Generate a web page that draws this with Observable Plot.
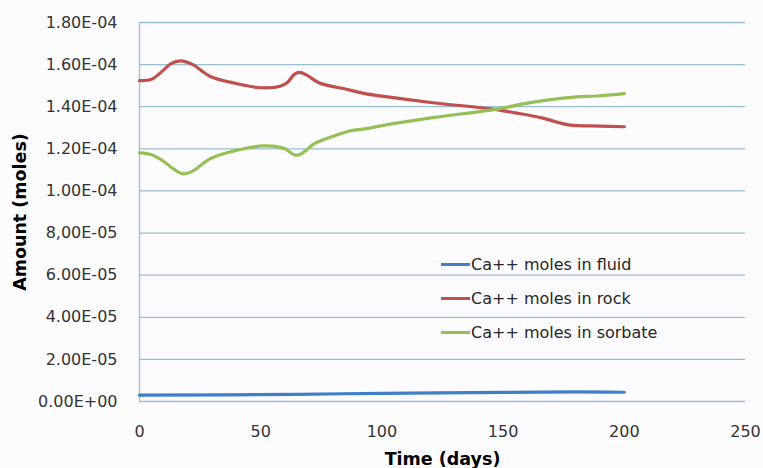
<!DOCTYPE html>
<html>
<head>
<meta charset="utf-8">
<script src="https://cdn.jsdelivr.net/npm/d3@7"></script>
<script src="https://cdn.jsdelivr.net/npm/@observablehq/plot@0.6"></script>
<style>
  html, body { margin: 0; padding: 0; background: #fcfcfe; }
  #wrap { position: relative; width: 763px; height: 468px; }
  .legend { position: absolute; left: 441px; top: 247px; font-family: "DejaVu Sans", sans-serif; font-size: 16px; color: #262626; }
  .legend .item { display: flex; align-items: center; height: 34.2px; }
  .legend .sw { width: 29px; height: 3px; margin-right: 1px; }
</style>
</head>
<body>
<div id="wrap"></div>
<script>
// Data
const seriesNames = ["Ca++ moles in fluid", "Ca++ moles in rock", "Ca++ moles in sorbate"];
const seriesColors = ["#3f7fc8", "#bf504d", "#96bf55"];

const fluidDays = [0, 65, 100, 150, 180, 200];
const fluidMoles = [3.0e-6, 3.4e-6, 3.9e-6, 4.3e-6, 4.6e-6, 4.4e-6];

const rockDays = [0, 5, 10, 13, 17, 22, 29, 40, 50, 58, 61, 64, 66, 69, 74, 86, 93, 100, 121, 145, 155, 166, 177, 190, 200];
const rockMoles = [1.524e-4, 1.530e-4, 1.575e-4, 1.605e-4, 1.618e-4, 1.600e-4, 1.545e-4, 1.510e-4, 1.490e-4, 1.497e-4, 1.515e-4, 1.555e-4, 1.563e-4, 1.550e-4, 1.514e-4, 1.481e-4, 1.462e-4, 1.450e-4, 1.419e-4, 1.390e-4, 1.371e-4, 1.347e-4, 1.314e-4, 1.308e-4, 1.305e-4];

const sorbDays = [0, 5, 10, 14, 18, 22, 29, 35, 39, 45, 51, 56, 60, 64, 66, 69, 72, 80, 87, 93, 100, 121, 148, 160, 177, 190, 200];
const sorbMoles = [1.181e-4, 1.172e-4, 1.140e-4, 1.105e-4, 1.081e-4, 1.095e-4, 1.152e-4, 1.178e-4, 1.190e-4, 1.205e-4, 1.214e-4, 1.212e-4, 1.200e-4, 1.171e-4, 1.172e-4, 1.195e-4, 1.224e-4, 1.260e-4, 1.286e-4, 1.295e-4, 1.310e-4, 1.348e-4, 1.390e-4, 1.417e-4, 1.443e-4, 1.452e-4, 1.462e-4];

const yTicks = [0, 2e-5, 4e-5, 6e-5, 8e-5, 1.0e-4, 1.2e-4, 1.4e-4, 1.6e-4, 1.8e-4];
const yTickLabels = ["0.00E+00", "2.00E-05", "4.00E-05", "6.00E-05", "8,00E-05", "1.00E-04", "1.20E-04", "1.40E-04", "1.60E-04", "1.80E-04"];
const xTicks = [0, 50, 100, 150, 200, 250];

const toRows = (days, vals, name) => days.map((d, i) => ({day: d, moles: vals[i], series: name}));
const rows = [
  ...toRows(fluidDays, fluidMoles, seriesNames[0]),
  ...toRows(rockDays, rockMoles, seriesNames[1]),
  ...toRows(sorbDays, sorbMoles, seriesNames[2])
];

const gridColor = "#9bbdd0";

const chart = Plot.plot({
  width: 763,
  height: 468,
  marginLeft: 139,
  marginRight: 18,
  marginTop: 22,
  marginBottom: 67,
  style: {background: "transparent", fontFamily: "DejaVu Sans, sans-serif", fontSize: "16px", color: "#333"},
  x: {domain: [0, 250]},
  y: {domain: [0, 1.8e-4]},
  color: {domain: seriesNames, range: seriesColors},
  marks: [
    Plot.ruleY(yTicks, {stroke: gridColor, strokeWidth: 1.3}),
    Plot.ruleX([0], {stroke: gridColor, strokeWidth: 1.3}),
    Plot.line(rows, {x: "day", y: "moles", z: "series", stroke: "series", strokeWidth: 3.2, curve: "catmull-rom"}),
    Plot.axisY({ticks: yTicks, tickFormat: (d) => yTickLabels[yTicks.indexOf(d)], tickSize: 0, tickPadding: 22,
      label: "Amount (moles)", labelAnchor: "center", labelArrow: "none", labelOffset: 126}),
    Plot.axisX({ticks: xTicks, tickSize: 0, tickPadding: 24, tickFormat: d => String(d),
      label: "Time (days)", labelAnchor: "center", labelArrow: "none", labelOffset: 63})
  ]
});

d3.select(chart).selectAll("[aria-label='y-axis label'] text, [aria-label='x-axis label'] text")
  .style("font-weight", "bold").style("font-size", "17.5px").style("fill", "#000");
d3.select(chart).selectAll("[aria-label='y-axis tick label'] text, [aria-label='x-axis tick label'] text")
  .style("fill", "#333");

const wrap = document.getElementById("wrap");
wrap.appendChild(chart);

const legend = document.createElement("div");
legend.className = "legend";
seriesNames.forEach((n, i) => {
  const it = document.createElement("div");
  it.className = "item";
  const sw = document.createElement("span");
  sw.className = "sw";
  sw.style.background = seriesColors[i];
  const tx = document.createElement("span");
  tx.textContent = n;
  it.appendChild(sw); it.appendChild(tx);
  legend.appendChild(it);
});
wrap.appendChild(legend);
</script>
</body>
</html>
